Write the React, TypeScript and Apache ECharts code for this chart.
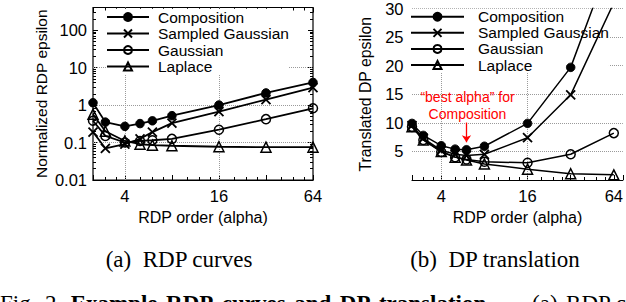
import React, { useEffect, useRef } from 'react';
import * as echarts from 'echarts';

// RDP orders (alpha) on the x axis
const alphas = [2.5, 3, 4, 5, 6, 8, 16, 32, 64];
const seriesNames = ['Composition', 'Sampled Gaussian', 'Gaussian', 'Laplace'];

// (a) normalized RDP epsilon
const rdpComposition = [1.15, 0.35, 0.27, 0.32, 0.38, 0.52, 1.0, 2.1, 4.0];
const rdpSampledGaussian = [0.19, 0.07, 0.09, 0.125, 0.19, 0.33, 0.67, 1.4, 2.9];
const rdpGaussian = [0.38, 0.15, 0.1, 0.11, 0.115, 0.125, 0.22, 0.42, 0.82];
const rdpLaplace = [0.57, 0.2, 0.11, 0.09, 0.085, 0.082, 0.077, 0.075, 0.075];

// (b) translated DP epsilon
const dpComposition = [9.9, 7.8, 6.0, 5.4, 5.3, 5.9, 9.9, 19.7, 40];
const dpSampledGaussian = [9.5, 7.3, 5.2, 4.5, 4.3, 4.5, 7.4, 14.9, 31];
const dpGaussian = [9.3, 7.0, 4.9, 4.0, 3.6, 3.2, 3.0, 4.5, 8.2];
const dpLaplace = [9.3, 7.0, 5.0, 4.0, 3.5, 2.8, 1.9, 1.1, 0.9];

// tick labels / grid lines
const xTickLabels = [4, 16, 64];
const rdpGridY = [0.1, 1, 10];
const dpGridY = [5, 10, 15, 20, 25, 30];
const bestAlpha = 6;
const arrowFrom = 10.05;
const arrowTo = 6.6;

const SANS = "'Liberation Sans', Arial, Helvetica, sans-serif";
const SERIF = "'Liberation Serif', 'Times New Roman', serif";

const symbolStyles = [
  { symbol: 'circle', symbolSize: 8.5, itemStyle: { color: '#000', borderColor: '#000', borderWidth: 1 } },
  { symbol: 'path://M0,0L10,10M10,0L0,10', symbolSize: 9, itemStyle: { color: 'rgba(0,0,0,0)', borderColor: '#000', borderWidth: 1.8 } },
  { symbol: 'circle', symbolSize: 9, itemStyle: { color: 'rgba(0,0,0,0)', borderColor: '#000', borderWidth: 1.5 } },
  { symbol: 'triangle', symbolSize: 10, itemStyle: { color: 'rgba(0,0,0,0)', borderColor: '#000', borderWidth: 1.5 } },
];

function pairs(values: number[]) {
  return alphas.map((a, i) => [a, values[i]]);
}

function xLabelFormatter(v: number) {
  const r = Math.round(v);
  return xTickLabels.includes(r) && Math.abs(v - r) < 1e-6 ? String(r) : '';
}

const gridLineStyle = { type: 'dotted', color: '#9a9a9a', width: 1 };

export default function App() {
  const ref = useRef<HTMLDivElement>(null);
  useEffect(() => {
    if (!ref.current) return;
    const chart = echarts.init(ref.current, null, { renderer: 'svg' });

    const tickCommon = { show: true, inside: true, length: 5, lineStyle: { color: '#000', width: 1 } };
    const minorCommon = { show: true, splitNumber: 4, length: 3, lineStyle: { color: '#000', width: 1 } };
    const labelCommon = { color: '#000', fontSize: 16.5, fontFamily: SANS };

    const leftData = [rdpComposition, rdpSampledGaussian, rdpGaussian, rdpLaplace];
    const rightData = [dpComposition, dpSampledGaussian, dpGaussian, dpLaplace];

    const series: any[] = [];
    leftData.forEach((d, i) => {
      const s: any = {
        type: 'line',
        name: seriesNames[i],
        xAxisIndex: 0,
        yAxisIndex: 0,
        data: pairs(d),
        lineStyle: { color: '#000', width: 1.8 },
        z: 2,
        ...symbolStyles[i],
      };
      if (i === 3) {
        s.markLine = {
          silent: true,
          z: 0.5,
          symbol: 'none',
          label: { show: false },
          lineStyle: gridLineStyle,
          data: [
            ...xTickLabels.slice(0, 2).map((v) => ({ xAxis: v })),
            ...rdpGridY.map((v) => ({ yAxis: v })),
          ],
        };
      }
      series.push(s);
    });
    rightData.forEach((d, i) => {
      const s: any = {
        type: 'line',
        name: seriesNames[i],
        xAxisIndex: 2,
        yAxisIndex: 2,
        data: pairs(d),
        lineStyle: { color: '#000', width: 1.5 },
        clip: true,
        z: 2,
        ...symbolStyles[i],
      };
      if (i === 3) {
        s.markLine = {
          silent: true,
          z: 0.5,
          symbol: 'none',
          label: { show: false },
          lineStyle: gridLineStyle,
          data: [
            ...xTickLabels.slice(0, 2).map((v) => ({ xAxis: v })),
            ...dpGridY.map((v) => ({ yAxis: v })),
          ],
        };
      }
      if (i === 0) {
        s.markLine = {
          silent: true,
          z: 3,
          symbol: ['none', 'arrow'],
          symbolSize: 7,
          label: { show: false },
          lineStyle: { color: '#ff0000', width: 1.3, type: 'solid' },
          data: [[{ coord: [bestAlpha, arrowFrom] }, { coord: [bestAlpha, arrowTo] }]],
        };
      }
      series.push(s);
    });

    const option: any = {
      animation: false,
      backgroundColor: '#fff',
      grid: [
        { left: 93, top: 7.5, width: 220, height: 172.5, show: true, borderColor: '#000', borderWidth: 1.2, backgroundColor: 'rgba(0,0,0,0)' },
        { left: 412, top: 6, right: 0, height: 174, show: false },
      ],
      xAxis: [
        {
          type: 'log', logBase: 2, min: 2.5, max: 64, gridIndex: 0,
          axisLine: { show: true, lineStyle: { color: '#000', width: 1.2 } },
          axisTick: tickCommon, minorTick: minorCommon,
          axisLabel: { ...labelCommon, margin: 7, showMinLabel: false, formatter: xLabelFormatter },
          splitLine: { show: false },
          name: 'RDP order (alpha)', nameLocation: 'middle', nameGap: 29,
          nameTextStyle: { color: '#000', fontSize: 16, fontFamily: SANS },
        },
        {
          type: 'log', logBase: 2, min: 2.5, max: 64, gridIndex: 0, position: 'top',
          axisLine: { show: false },
          axisTick: tickCommon, minorTick: minorCommon,
          axisLabel: { show: false }, splitLine: { show: false },
        },
        {
          type: 'log', logBase: 2, min: 2.5, max: 74, gridIndex: 1,
          axisLine: { show: true, lineStyle: { color: '#000', width: 1.2 } },
          axisTick: tickCommon, minorTick: minorCommon,
          axisLabel: { ...labelCommon, margin: 7, showMinLabel: false, showMaxLabel: false, formatter: xLabelFormatter },
          splitLine: { show: false },
          name: 'RDP order (alpha)', nameLocation: 'middle', nameGap: 29,
          nameTextStyle: { color: '#000', fontSize: 16, fontFamily: SANS },
        },
      ],
      yAxis: [
        {
          type: 'log', logBase: 10, min: 0.01, max: 400, gridIndex: 0,
          axisLine: { show: false },
          axisTick: tickCommon,
          minorTick: { ...minorCommon, splitNumber: 9 },
          axisLabel: { ...labelCommon, margin: 6, showMaxLabel: false },
          splitLine: { show: false },
          name: 'Normalized RDP epsilon', nameLocation: 'middle', nameGap: 44,
          nameTextStyle: { color: '#000', fontSize: 15.5, fontFamily: SANS },
        },
        {
          type: 'log', logBase: 10, min: 0.01, max: 400, gridIndex: 0, position: 'right',
          axisLine: { show: false },
          axisTick: tickCommon,
          minorTick: { ...minorCommon, splitNumber: 9 },
          axisLabel: { show: false }, splitLine: { show: false },
        },
        {
          type: 'value', min: 0, max: 30, interval: 5, gridIndex: 1,
          axisLine: { show: false },
          axisTick: { show: false },
          axisLabel: { ...labelCommon, margin: 8.5, formatter: (v: number) => (v === 0 ? '' : String(v)) },
          splitLine: { show: false },
          name: 'Translated DP epsilon', nameLocation: 'middle', nameGap: 39,
          nameTextStyle: { color: '#000', fontSize: 15.8, fontFamily: SANS },
        },
      ],
      legend: [
        {
          orient: 'vertical', left: 106, top: 8.75, padding: 0, itemGap: 0,
          itemWidth: 42, itemHeight: 10, data: seriesNames, selectedMode: false,
          backgroundColor: '#fff', z: 1,
          textStyle: { color: '#000', fontSize: 15.5, fontFamily: SANS, lineHeight: 16.5, padding: [0, 0, 0, 4] },
        },
        {
          orient: 'vertical', left: 410, top: 8.7, padding: 0, itemGap: 0,
          itemWidth: 53, itemHeight: 10, data: seriesNames, selectedMode: false,
          backgroundColor: '#fff', z: 1,
          textStyle: { color: '#000', fontSize: 15.5, fontFamily: SANS, lineHeight: 16.1, padding: [0, 0, 0, 9] },
        },
      ],
      graphic: [
        {
          type: 'text', x: 467.5, y: 96.7, z: 5,
          style: { text: '\u201Cbest alpha\u201D for', fill: '#ff0000', font: `14px ${SANS}`, align: 'center', verticalAlign: 'middle' },
        },
        {
          type: 'text', x: 467.5, y: 114.3, z: 5,
          style: { text: 'Composition', fill: '#ff0000', font: `14px ${SANS}`, align: 'center', verticalAlign: 'middle' },
        },
        {
          type: 'text', x: 179, y: 259,
          style: { text: '(a)  RDP curves', fill: '#000', font: `23px ${SERIF}`, align: 'center', verticalAlign: 'middle' },
        },
        {
          type: 'text', x: 495, y: 259,
          style: { text: '(b)  DP translation', fill: '#000', font: `23px ${SERIF}`, align: 'center', verticalAlign: 'middle' },
        },
        {
          type: 'text', x: 0, y: 303,
          style: {
            text: '{r|Fig.}{s| }{r|2.}{s| }{b|Example}{s| }{b|RDP}{s| }{b|curves}{s| }{b|and}{s| }{b|DP}{s| }{b|translation.}{w| }{r|(a)}{s| }{r|RDP curves}',
            rich: {
              r: { fontFamily: SERIF, fontSize: 23, fill: '#000' },
              b: { fontFamily: SERIF, fontSize: 23, fontWeight: 'bold', fill: '#000' },
              s: { fontFamily: SERIF, fontSize: 23, width: 8.5 },
              w: { fontFamily: SERIF, fontSize: 23, width: 40 },
            },
            fill: '#000', align: 'left', verticalAlign: 'middle',
          },
        },
      ],
      series,
    };
    chart.setOption(option);
    return () => chart.dispose();
  }, []);
  return <div ref={ref} style={{ position: 'absolute', left: 0, top: 0, width: 626, height: 302, background: '#fff' }} />;
}
